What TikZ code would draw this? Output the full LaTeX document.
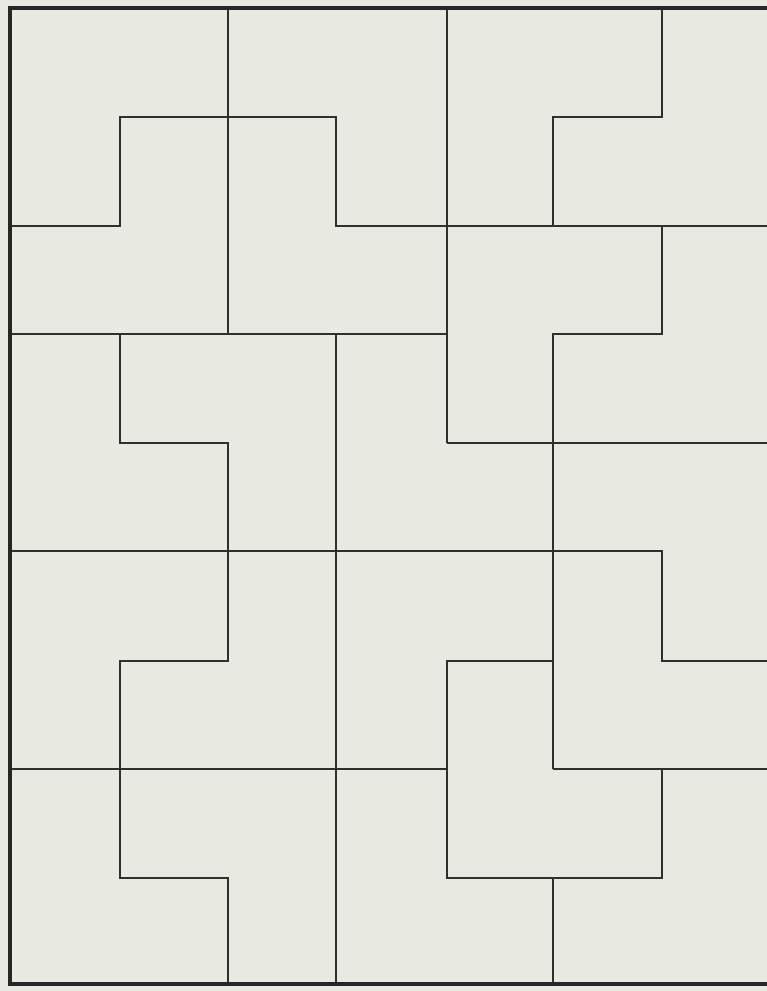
\documentclass[tikz,border=0pt]{standalone}
\usepackage{tikz}
\definecolor{paper}{RGB}{232,234,226}
\definecolor{ink}{RGB}{50,46,48}
\begin{document}
\begin{tikzpicture}[x=1pt,y=-1pt,
  cut/.style={draw=ink,line width=1.7pt,line join=miter},
  frame/.style={draw=ink!80!black,line width=3.2pt,line join=miter}]
\fill[paper] (0,0) rectangle (767,991);
\useasboundingbox (0,0) rectangle (767,991);
% columns
\def\ca{10}\def\cb{120}\def\cc{228}\def\cd{336}\def\ce{447}\def\cf{553}\def\cg{662}\def\ch{770}
% rows
\def\ra{8}\def\rb{117}\def\rc{226}\def\rd{334}\def\re{443}\def\rf{551}\def\rg{661}\def\rh{769}\def\ri{878}\def\rj{984}
\path[cut] (\cc,\ra) -- (\cc,\rd);
\path[cut] (\ce,\ra) -- (\ce,\re);
\path[cut] (\cg,\ra) -- (\cg,\rb) -- (\cf,\rb) -- (\cf,\rc);
\path[cut] (\ca,\rc) -- (\cb,\rc) -- (\cb,\rb) -- (\cd,\rb) -- (\cd,\rc) -- (\ch,\rc);
\path[cut] (\cg,\rc) -- (\cg,\rd) -- (\cf,\rd) -- (\cf,\rh);
\path[cut] (\ca,\rd) -- (\ce,\rd);
\path[cut] (\cb,\rd) -- (\cb,\re) -- (\cc,\re) -- (\cc,\rg) -- (\cb,\rg) -- (\cb,\ri) -- (\cc,\ri) -- (\cc,\rj);
\path[cut] (\cd,\rd) -- (\cd,\rj);
\path[cut] (\ce,\re) -- (\ch,\re);
\path[cut] (\ca,\rf) -- (\cg,\rf) -- (\cg,\rg) -- (\ch,\rg);
\path[cut] (\cf,\rg) -- (\ce,\rg) -- (\ce,\ri) -- (\cg,\ri) -- (\cg,\rh);
\path[cut] (\cf,\rh) -- (\ch,\rh);
\path[cut] (\ca,\rh) -- (\ce,\rh);
\path[cut] (\cf,\ri) -- (\cf,\rj);
\path[frame] (\ch,\ra) -- (\ca,\ra) -- (\ca,\rj) -- (\ch,\rj);
\end{tikzpicture}
\end{document}
